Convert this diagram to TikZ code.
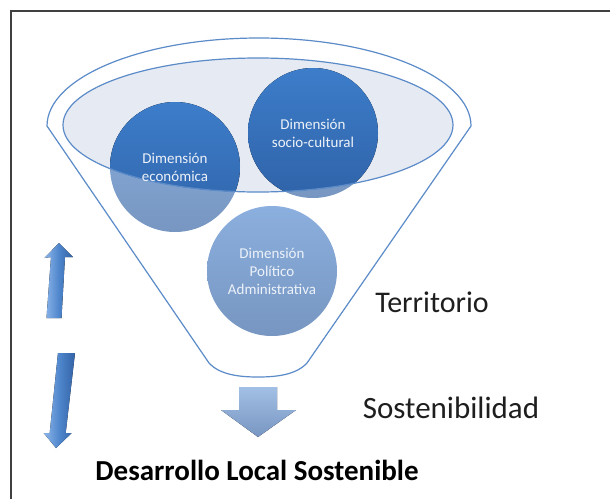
\documentclass[tikz,border=0pt]{standalone}
\usepackage{fontspec}
\setmainfont{Carlito}

\definecolor{rimblue}{HTML}{5B8BC8}
\definecolor{ellfill}{HTML}{E6EAF3}
\definecolor{darktop}{HTML}{3D7DCA}
\definecolor{darkbot}{HTML}{2F63A8}
\definecolor{lighttop}{HTML}{8BAFDE}
\definecolor{lightbot}{HTML}{7796C1}
\definecolor{dimwhite}{HTML}{EDF2F9}
\definecolor{labelgray}{HTML}{1E1E1E}
\definecolor{arrowhi}{HTML}{8DB6EA}
\definecolor{arrowmid}{HTML}{4F86CC}
\definecolor{arrowlo}{HTML}{3262A6}

\begin{document}
\begin{tikzpicture}[x=1pt, y=-1pt,
    rim/.style={draw=rimblue, line width=1.2pt},
    dimcircle/.style={circle, minimum size=130pt, inner sep=0pt, top color=lighttop, bottom color=lightbot},
    dimtext/.style={text=dimwhite, font=\fontsize{15}{18}\selectfont, align=center},
    bigtext/.style={text=labelgray, font=\fontsize{30}{36}\selectfont},
    sidearrow/.style={left color=arrowhi, right color=arrowlo, middle color=arrowmid},
  ]
  \useasboundingbox (0,0) rectangle (610,498);
  \fill[white] (0,0) rectangle (610,498);
  % frame
  \draw[line width=1.6pt, black!75] (11,520) -- (11,11) -- (630,11);

  % funnel
  \draw[rim] (47,126) arc[start angle=180, end angle=360, x radius=212, y radius=88]
    -- (307,363) .. controls (296,375) and (276,377) .. (258,377)
    .. controls (240,377) and (220,375) .. (209,363) -- cycle;
  \fill[ellfill] (258,125) ellipse[x radius=195, y radius=67];

  % dimensions
  \node[dimcircle] (econ) at (175,167) {};
  \node[dimcircle] (socio) at (313,133) {};
  \node[dimcircle] (poli) at (272,271) {};
  \begin{scope}
    \clip (258,125) ellipse[x radius=195, y radius=67];
    \fill[top color=darktop, bottom color=darkbot] (econ.center) circle[radius=65];
    \fill[top color=darktop, bottom color=darkbot] (socio.center) circle[radius=65];
  \end{scope}
  \draw[rim] (258,125) ellipse[x radius=195, y radius=67];

  \node[dimtext] (econtxt) at (econ) {Dimensión\\económica};
  \node[dimtext] (sociotxt) at (socio) {Dimensión\\socio-cultural};
  \node[dimtext] (politxt) at (poli) {Dimensión\\Político\\Administrativa};

  % arrows
  \fill[top color=lighttop!80!white, bottom color=lightbot] (239,387) -- (277,387) -- (277,410) -- (296,410)
    -- (258,437) -- (221,410) -- (239,410) -- cycle;
  \fill[sidearrow] (46.5,318) -- (51,257) -- (44.5,258) -- (59,243) -- (73,257) -- (65,257)
    -- (61.5,318) -- cycle;
  \fill[sidearrow] (58,353) -- (75,353) -- (65.7,433) -- (71.7,433) -- (56,448) -- (43.7,433)
    -- (49.7,433) -- cycle;

  % labels
  \node[bigtext] (terr) at (432,302) {Territorio};
  \node[bigtext, font=\fontsize{31}{36}\selectfont] (sost) at (451,408) {Sostenibilidad};
  \node[bigtext, text=black, font=\fontsize{29}{34}\selectfont\bfseries] (dls) at (257,470) {Desarrollo Local Sostenible};
\end{tikzpicture}
\end{document}
